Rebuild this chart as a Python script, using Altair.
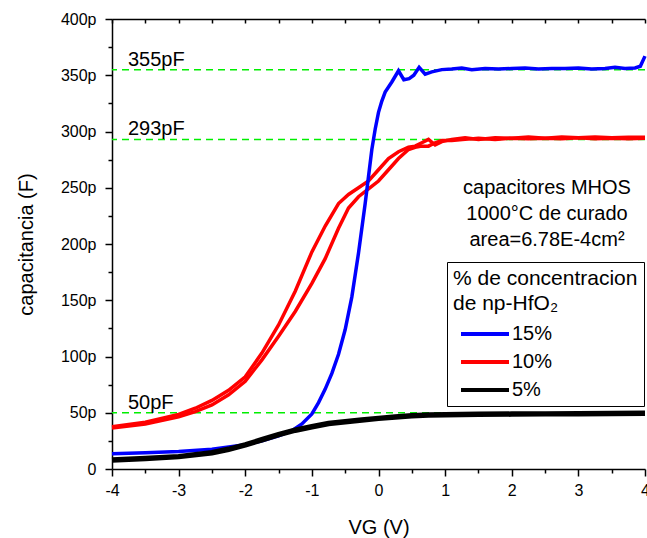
import altair as alt
import pandas as pd

FONT = "Liberation Sans"

# ---- data ----
series = ["15%", "10%", "5%"]
colors = ["#0000ff", "#ff0000", "#000000"]

# 15 %
blue_x = [-4.0, -3.5, -3.0, -2.5, -2.0, -1.75, -1.5, -1.3, -1.15, -1.0, -0.9, -0.8, -0.7, -0.6, -0.5,
          -0.4, -0.3, -0.2, -0.15, -0.1, -0.05, 0.0, 0.05, 0.1, 0.2, 0.3, 0.38, 0.46, 0.53, 0.61, 0.7,
          0.8, 0.95, 1.1, 1.25, 1.4, 1.6, 1.8, 2.0, 2.2, 2.4, 2.6, 2.8, 3.0, 3.2, 3.4, 3.55, 3.7, 3.85,
          3.93, 4.0]
blue_y = [13.5, 14.5, 15.5, 17.5, 21.5, 25, 29.5, 34, 40, 49, 59, 71, 85, 102, 124,
          153, 192, 236, 260, 284, 302, 317, 327, 335, 344, 354, 346, 347, 350, 357, 351,
          353, 355, 355.5, 356.5, 355, 356, 355.5, 356, 356.5, 355.5, 356, 356, 356.5, 355.5, 356, 357, 356, 356.5,
          358, 367]

# 10 % (two sweeps)
red_x = [-4.0, -3.5, -3.0, -2.75, -2.5, -2.25, -2.0, -1.75, -1.5, -1.25, -1.0, -0.8, -0.6, -0.45, -0.3,
         -0.15, 0.0, 0.15, 0.3, 0.45, 0.55, 0.65, 0.75, 0.85, 0.95, 1.1, 1.3, 1.5, 1.75, 2.0, 2.25, 2.5,
         2.75, 3.0, 3.25, 3.5, 3.75, 4.0]
red_a = [37.5, 41.5, 48.5, 54, 61, 70, 82, 103, 128, 158, 193, 216, 236, 244, 250,
         256, 266, 276, 282, 286, 287, 290, 293, 288, 291, 293, 294.5, 293, 294.5, 294, 295, 294,
         295, 294.5, 295, 294.5, 295, 295]
red_b = [36.5, 40, 46.5, 51, 57, 66, 78, 97, 118, 140, 165, 187, 214, 232, 242,
         249, 256, 266, 276, 284, 286, 287, 287, 290, 292, 292, 293, 294, 293, 294, 293.5, 294,
         293.5, 294.5, 293.5, 294, 293.5, 294]

# 5 %
black_x = [-4.0, -3.5, -3.0, -2.5, -2.25, -2.0, -1.75, -1.5, -1.25, -1.0, -0.75, -0.5, -0.25, 0.0,
           0.25, 0.5, 0.75, 1.0, 1.5, 2.0, 2.5, 3.0, 3.5, 4.0]
black_y = [8, 9.3, 11, 14.5, 17.5, 21.5, 26, 30.5, 34.5, 37.5, 40.5, 42, 43.5, 45,
           46.3, 47.3, 48, 48.3, 48.6, 48.8, 49, 49.2, 49.3, 49.5]

ref_values = [355, 293, 50]
ref_labels = ["355pF", "293pF", "50pF"]

x_ticks = [-4, -3.5, -3, -2.5, -2, -1.5, -1, -0.5, 0, 0.5, 1, 1.5, 2, 2.5, 3, 3.5, 4]
y_ticks = [0, 25, 50, 75, 100, 125, 150, 175, 200, 225, 250, 275, 300, 325, 350, 375, 400]

note_lines = ["capacitores MHOS", "1000°C de curado", "area=6.78E-4cm²"]
legend_title = ["% de concentracion", "de np-HfO₂"]

# ---- tables ----
blue_df = pd.DataFrame({"v": blue_x, "c": blue_y, "serie": series[0], "traza": "a"})
red_df = pd.concat([
    pd.DataFrame({"v": red_x, "c": red_a, "serie": series[1], "traza": "a"}),
    pd.DataFrame({"v": red_x, "c": red_b, "serie": series[1], "traza": "b"}),
])
black_df = pd.DataFrame({"v": black_x, "c": black_y, "serie": series[2], "traza": "a"})
ref_df = pd.DataFrame({"c": ref_values, "t": ref_labels})

xs = alt.Scale(domain=[-4, 4], nice=False, zero=False)
ys = alt.Scale(domain=[0, 400], nice=False)

y_axis = alt.Axis(
    title="capacitancia (F)", values=y_ticks,
    labelExpr="datum.value % 50 === 0 ? (datum.value === 0 ? '0' : datum.value + 'p') : ''",
    tickSize=7,
    tickDash={"condition": {"test": "datum.value % 50 === 0", "value": [100, 1]}, "value": [4, 100]},
    labelPadding=9, titlePadding=24, labelOverlap=False, grid=False,
)
x_bottom = alt.Axis(
    title="VG (V)", values=x_ticks,
    labelExpr="datum.value % 1 === 0 ? '' + datum.value : ''",
    tickSize=7,
    tickDash={"condition": {"test": "datum.value % 1 === 0", "value": [100, 1]}, "value": [4, 100]},
    labelPadding=6, titlePadding=19, labelOverlap=False, labelFlush=False, grid=False,
)
x_top = alt.Axis(
    orient="top", title=None, values=x_ticks, labels=False, grid=False,
    tickSize={"expr": "-4"}, domain=True,
)

legend = alt.Legend(
    title=legend_title, orient="none", legendX=335, legendY=243, direction="vertical",
    symbolType="M-0.4,0H4.4", symbolSize=400, symbolStrokeWidth=4, symbolOpacity=1,
    labelFont=FONT, labelFontSize=20, labelColor="black", labelOffset=35, labelLimit=300,
    titleFont=FONT, titleFontSize=21, titleFontWeight="normal", titleColor="black",
    titleLineHeight=25, titleLimit=400, titlePadding=8,
    padding=6, rowPadding=6, strokeColor="black", fillColor="white",
)
color = alt.Color("serie:N", scale=alt.Scale(domain=series, range=colors), legend=legend)

rules = alt.Chart(ref_df).mark_rule(color="#00ee00", strokeDash=[7, 5], strokeWidth=1.5).encode(
    y=alt.Y("c:Q", scale=ys, axis=y_axis)
)
ref_text = alt.Chart(ref_df).mark_text(
    align="left", baseline="alphabetic", dy=-4, font=FONT, fontSize=20, color="black"
).encode(
    x=alt.value(16), y=alt.Y("c:Q", scale=ys, axis=y_axis), text="t:N"
)

red = alt.Chart(red_df).mark_line(strokeWidth=3.5).encode(
    x=alt.X("v:Q", scale=xs, axis=x_top),
    y=alt.Y("c:Q", scale=ys, axis=y_axis),
    color=color, detail="traza:N", order="v:Q",
)
blue = alt.Chart(blue_df).mark_line(strokeWidth=3.5).encode(
    x=alt.X("v:Q", scale=xs, axis=x_bottom),
    y=alt.Y("c:Q", scale=ys, axis=y_axis),
    color=color, detail="traza:N", order="v:Q",
)
black = alt.Chart(black_df).mark_line(strokeWidth=5.5).encode(
    x=alt.X("v:Q", scale=xs, axis=None),
    y=alt.Y("c:Q", scale=ys, axis=y_axis),
    color=color, detail="traza:N", order="v:Q",
)
note = alt.Chart(pd.DataFrame({"k": [0]})).mark_text(
    text=note_lines, align="center", baseline="alphabetic", lineHeight=26,
    font=FONT, fontSize=20, color="black",
).encode(x=alt.value(435), y=alt.value(175))

chart = alt.layer(rules, ref_text, red, blue, black, note).resolve_axis(x="independent").properties(
    width=533, height=450,
    autosize=alt.AutoSizeParams(type="none"),
    padding={"left": 112, "top": 19, "right": 2, "bottom": 69},
    background="white",
).configure_view(stroke=None).configure_axis(
    labelFont=FONT, titleFont=FONT, labelFontSize=16, titleFontSize=20,
    labelColor="black", titleColor="black", titleFontWeight="normal",
    domainColor="black", domainWidth=1.5, tickColor="black", tickWidth=1.5,
)

chart.save("out.html", embed_options={"renderer": "svg", "actions": False})
